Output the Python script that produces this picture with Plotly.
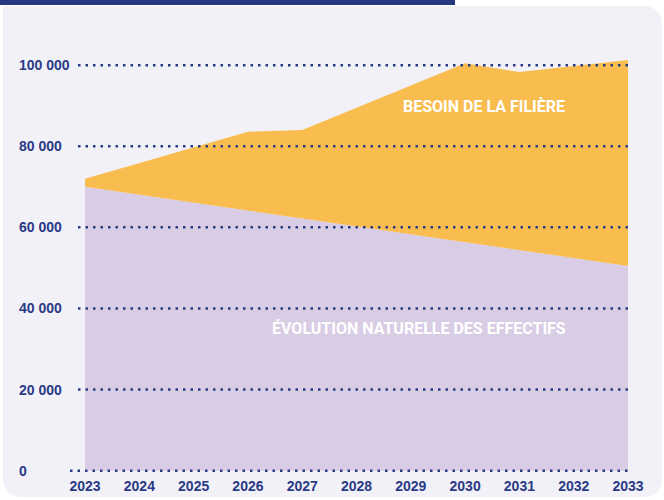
import plotly.graph_objects as go

# data
years = [2023, 2024, 2025, 2026, 2027, 2028, 2029, 2030, 2031, 2032, 2033]
evolution_naturelle = [70000, 68050, 66100, 64150, 62200, 60250, 58300, 56350, 54400, 52450, 50500]
besoin_filiere = [72000, 75900, 79800, 83600, 84000, 89500, 95000, 100500, 98300, 99800, 101300]
y_ticks = [0, 20000, 40000, 60000, 80000, 100000]
y_tick_labels = ["0", "20 000", "40 000", "60 000", "80 000", "100 000"]

NAVY = "#2a3a85"
ORANGE = "#f9bd4f"
LILAC = "#d9cce5"
PANEL = "#f2f1f8"

W, H = 664, 500
M_L, M_R, M_T, M_B = 78, 36, 53, 27
PW, PH = W - M_L - M_R, H - M_T - M_B


def px(x):
    # pixel -> paper x
    return (x - M_L) / PW


def py(y):
    # pixel (from top) -> paper y
    return (H - M_B - y) / PH


fig = go.Figure()

fig.add_trace(go.Scatter(
    x=years, y=evolution_naturelle, mode="lines",
    line=dict(width=0, color=LILAC), fill="tozeroy", fillcolor=LILAC,
    name="Évolution naturelle des effectifs", hoverinfo="x+y",
))
fig.add_trace(go.Scatter(
    x=years, y=besoin_filiere, mode="lines",
    line=dict(width=0, color=ORANGE), fill="tonexty", fillcolor=ORANGE,
    name="Besoin de la filière", hoverinfo="x+y",
))

# rounded background panel + top bar
r = 20
x0, x1, y0, y1 = 3, 662, 6, 497
panel = (
    f"M {px(x0)} {py(y0)} L {px(x1 - r)} {py(y0)} "
    f"Q {px(x1)} {py(y0)} {px(x1)} {py(y0 + r)} "
    f"L {px(x1)} {py(y1 - r)} Q {px(x1)} {py(y1)} {px(x1 - r)} {py(y1)} "
    f"L {px(x0 + r)} {py(y1)} Q {px(x0)} {py(y1)} {px(x0)} {py(y1 - r)} Z"
)
shapes = [
    dict(type="path", path=panel, xref="paper", yref="paper",
         fillcolor=PANEL, line=dict(width=0), layer="below"),
    dict(type="rect", xref="paper", yref="paper", x0=px(0), x1=px(455),
         y0=py(5), y1=py(0), fillcolor="#263880", line=dict(width=0), layer="below"),
]

# dotted gridlines drawn above the areas
for v in y_ticks:
    shapes.append(dict(
        type="line", xref="paper", yref="y",
        x0=px(70) if v == 0 else 0, x1=1, y0=v, y1=v,
        line=dict(color=NAVY, width=2.5, dash="2.5px,5px"), layer="above",
    ))

tick_font = dict(family="Liberation Sans, Arial, sans-serif", size=14, color=NAVY, weight="bold")

annotations = []
for v, t in zip(y_ticks, y_tick_labels):
    annotations.append(dict(
        x=px(17), xref="paper", y=v, yref="y", text=t, showarrow=False,
        xanchor="left", yanchor="middle", font=tick_font,
    ))

label_font = dict(family="Roboto, sans-serif", size=16, color="white", weight="bold")
annotations.append(dict(x=2030.35, y=89900, text="BESOIN DE LA FILIÈRE",
                        showarrow=False, font=label_font))
annotations.append(dict(x=2029.15, y=35000, text="ÉVOLUTION NATURELLE DES EFFECTIFS",
                        showarrow=False, font=label_font))

fig.update_layout(
    width=W, height=H,
    margin=dict(l=M_L, r=M_R, t=M_T, b=M_B),
    paper_bgcolor="white", plot_bgcolor="rgba(0,0,0,0)",
    showlegend=False,
    shapes=shapes, annotations=annotations,
    xaxis=dict(
        range=[2022.87, 2033], tickvals=years, ticktext=[str(y) for y in years],
        showgrid=False, zeroline=False, showline=False, automargin=False,
        ticks="outside", ticklen=0, tickcolor="rgba(0,0,0,0)",
        tickfont=tick_font, fixedrange=True,
    ),
    yaxis=dict(
        range=[-570, 103000], tickvals=y_ticks, showticklabels=False, automargin=False,
        showgrid=False, zeroline=False, showline=False, fixedrange=True,
    ),
)

# page body has an 8px default margin; drop it so the figure sits at 0,0
fig.write_html("out.html", config={"displayModeBar": False},
               post_script="document.body.style.margin='0';")
